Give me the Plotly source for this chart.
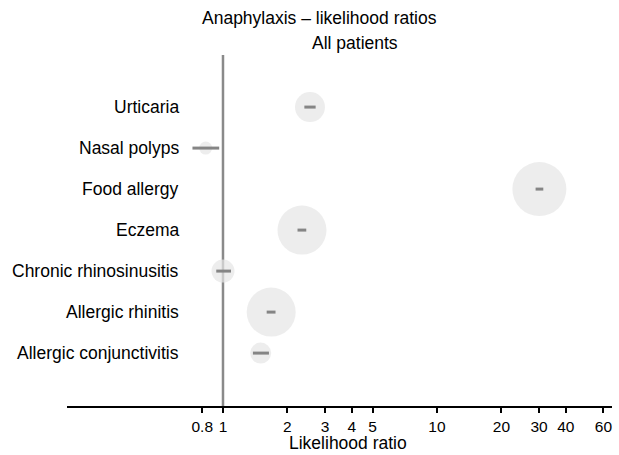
import plotly.graph_objects as go

# Likelihood ratios per condition (top to bottom as in the chart)
conditions = ["Urticaria", "Nasal polyps", "Food allergy", "Eczema",
              "Chronic rhinosinusitis", "Allergic rhinitis", "Allergic conjunctivitis"]
lr = [2.55, 0.83, 30.1, 2.34, 1.0, 1.68, 1.50]
ci_low = [2.40, 0.72, 28.9, 2.23, 0.93, 1.60, 1.38]
ci_high = [2.71, 0.96, 31.4, 2.45, 1.09, 1.76, 1.64]
weight = [30, 13, 54, 49, 23, 49, 21]

tick_vals = [0.8, 1, 2, 3, 4, 5, 10, 20, 30, 40, 60]
tick_text = ["0.8", "1", "2", "3", "4", "5", "10", "20", "30", "40", "60"]

font = "Arial, Liberation Sans, sans-serif"

# CI segments
xe, ye = [], []
for c, lo, hi in zip(conditions, ci_low, ci_high):
    xe += [lo, hi, None]
    ye += [c, c, None]

fig = go.Figure()
fig.add_trace(go.Scatter(x=lr, y=conditions, mode="markers",
                         marker=dict(size=weight, color="#e6e6e6", line=dict(width=0)),
                         hoverinfo="x+y"))
fig.add_trace(go.Scatter(x=xe, y=ye, mode="lines",
                         line=dict(color="#858585", width=3),
                         hoverinfo="none"))

# reference line at LR = 1
fig.add_shape(type="line", xref="x", yref="paper", x0=1, x1=1, y0=0, y1=1,
              line=dict(color="#8a8a8a", width=2.5), layer="below")

# row labels
for c in conditions:
    fig.add_annotation(text=c, xref="paper", yref="y", x=0.209, y=c,
                       xanchor="right", yanchor="middle", showarrow=False,
                       font=dict(family=font, size=17.5, color="black"))

fig.add_annotation(text="Anaphylaxis \u2013 likelihood ratios", xref="paper", yref="paper",
                   x=0.464, y=1.105, xanchor="center", yanchor="middle", showarrow=False,
                   font=dict(family=font, size=17.5, color="black"))
fig.add_annotation(text="All patients", xref="paper", yref="paper",
                   x=0.528, y=1.034, xanchor="center", yanchor="middle", showarrow=False,
                   font=dict(family=font, size=17.5, color="black"))
fig.add_annotation(text="Likelihood ratio", xref="paper", yref="paper",
                   x=0.516, y=-0.104, xanchor="center", yanchor="middle", showarrow=False,
                   font=dict(family=font, size=17.5, color="black"))

fig.update_layout(width=619, height=455, showlegend=False,
                  margin=dict(l=67, r=7, t=55, b=49),
                  plot_bgcolor="white", paper_bgcolor="white")
fig.update_xaxes(type="log", range=[-0.729, 1.818],
                 tickvals=tick_vals, ticktext=tick_text,
                 showline=True, linecolor="black", linewidth=2,
                 ticks="outside", ticklen=5, tickwidth=2, tickcolor="black",
                 showgrid=False, zeroline=False,
                 tickfont=dict(family=font, size=15.5, color="black"))
fig.update_yaxes(type="category", categoryorder="array",
                 categoryarray=conditions[::-1], range=[-1.29, 7.27],
                 visible=False)

fig.write_html("out.html", config={"displayModeBar": False},
               post_script="document.body.style.margin='0';")
